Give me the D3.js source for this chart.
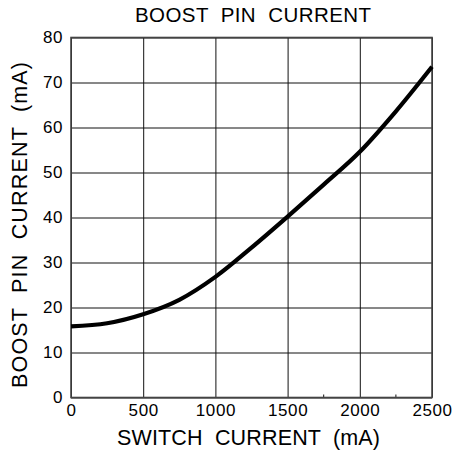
<!DOCTYPE html>
<html>
<head>
<meta charset="utf-8">
<script src="https://cdn.jsdelivr.net/npm/d3@7"></script>
<style>
  html, body { margin: 0; padding: 0; background: #fff; }
  svg { display: block; }
  text { font-family: "Liberation Sans", Arial, sans-serif; fill: #000; }
</style>
</head>
<body>
<svg id="chart" width="453" height="453"></svg>
<script>
// Data
const switchCurrent = [0, 250, 500, 750, 1000, 1250, 1500, 1750, 2000, 2250, 2500];
const boostPinCurrent = [15.8, 16.5, 18.5, 21.7, 26.8, 33.3, 40.2, 47.3, 54.6, 63.6, 73.5];
const xTicks = [0, 500, 1000, 1500, 2000, 2500];
const yTicks = [0, 10, 20, 30, 40, 50, 60, 70, 80];
const xMinorTicks = [1750, 2250];
const chartTitle = "BOOST  PIN  CURRENT";
const xTitle = "SWITCH  CURRENT  (mA)";
const yTitle = "BOOST  PIN  CURRENT  (mA)";

(function () {
const svg = d3.select("#chart");
const mLeft = 71, mRight = 432, mTop = 37.5, mBottom = 397.5;

const x = d3.scaleLinear().domain([0, 2500]).range([mLeft, mRight]);
const y = d3.scaleLinear().domain([0, 80]).range([mBottom, mTop]);

// Grid
const gx = svg.append("g").attr("transform", `translate(0,${mBottom})`)
  .call(d3.axisBottom(x).tickValues(xTicks).tickSizeInner(-(mBottom - mTop)).tickSizeOuter(0).tickPadding(8).tickFormat(d3.format("d")));
gx.select(".domain").remove();
gx.selectAll(".tick line").attr("stroke", "#111").attr("stroke-width", 1);
gx.selectAll(".tick text").attr("font-size", 17).attr("letter-spacing", 0.6).attr("dy", "0.6em").attr("fill", "#000");

const gy = svg.append("g").attr("transform", `translate(${mLeft},0)`)
  .call(d3.axisLeft(y).tickValues(yTicks).tickSizeInner(-(mRight - mLeft)).tickSizeOuter(0).tickPadding(8).tickFormat(d3.format("d")));
gy.select(".domain").remove();
gy.selectAll(".tick line").attr("stroke", "#111").attr("stroke-width", 1);
gy.selectAll(".tick text").attr("font-size", 17).attr("letter-spacing", 0.6).attr("fill", "#000");

// Minor ticks on bottom axis
svg.append("g").selectAll("line").data(xMinorTicks).join("line")
  .attr("x1", d => x(d)).attr("x2", d => x(d))
  .attr("y1", mBottom).attr("y2", mBottom - 3)
  .attr("stroke", "#111").attr("stroke-width", 1);

// Frame
svg.append("rect")
  .attr("x", mLeft).attr("y", mTop)
  .attr("width", mRight - mLeft).attr("height", mBottom - mTop)
  .attr("fill", "none").attr("stroke", "#444").attr("stroke-width", 1.6);

// Curve
const line = d3.line()
  .x((d, i) => x(switchCurrent[i]))
  .y(d => y(d))
  .curve(d3.curveMonotoneX);
svg.append("path")
  .datum(boostPinCurrent)
  .attr("d", line)
  .attr("fill", "none")
  .attr("stroke", "#000")
  .attr("stroke-width", 4.2)
  .attr("stroke-linejoin", "round");

// Titles
svg.append("text").attr("x", 253).attr("y", 22)
  .attr("text-anchor", "middle").attr("font-size", 20.5)
  .attr("textLength", 236).attr("lengthAdjust", "spacing")
  .style("white-space", "pre").text(chartTitle);

svg.append("text").attr("x", 248.5).attr("y", 445)
  .attr("text-anchor", "middle").attr("font-size", 21.5)
  .attr("textLength", 263).attr("lengthAdjust", "spacing")
  .style("white-space", "pre").text(xTitle);

svg.append("text")
  .attr("transform", "translate(27,225) rotate(-90)")
  .attr("text-anchor", "middle").attr("font-size", 21.5)
  .attr("textLength", 326).attr("lengthAdjust", "spacing")
  .style("white-space", "pre").text(yTitle);
})();
</script>
</body>
</html>
